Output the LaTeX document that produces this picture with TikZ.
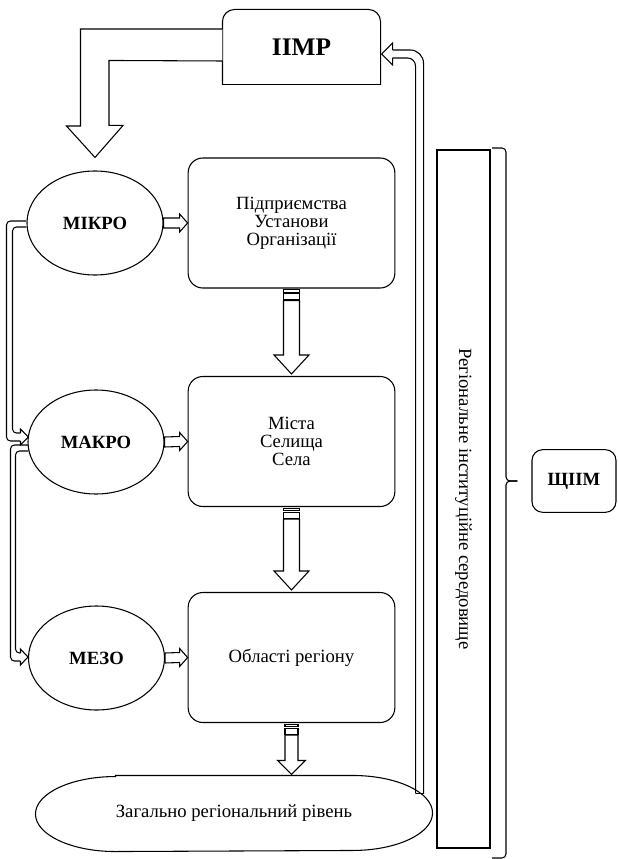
\documentclass[tikz,border=0pt]{standalone}
\usepackage{fontspec}
\setmainfont{Liberation Serif}
\usetikzlibrary{calc,shapes.geometric}

\tikzset{
  txt/.style={font=\fontsize{14}{13.5}\selectfont},
  levelbox/.style={txt,draw,fill=white,rounded corners=11pt,align=center,
    minimum width=155pt,minimum height=97.5pt,inner sep=0pt},
  scaleoval/.style={draw,fill=white,ellipse,minimum width=102pt,minimum height=78pt,
    inner sep=0pt,font=\fontsize{14}{14}\selectfont\bfseries}
}

% small block arrow: from oval #1 to box #2
\newcommand{\SideArrow}[2]{%
  \draw[fill=white] ($(#1.east)+(0,-5)$) -- ($(#2.west)+(-8,-5)$) -- ($(#2.west)+(-8,-9)$)
    -- (#2.west) -- ($(#2.west)+(-8,9)$) -- ($(#2.west)+(-8,5)$) -- ($(#1.east)+(0,5)$) -- cycle;}

% striped block arrow down: from point #1 to point #2, shaft half width #3, head half width #4, head length #5
\newcommand{\StripedArrow}[5]{%
  \draw[fill=white] ($(#1)+(-#3,1)$) rectangle ($(#1)+(#3,3.5)$);
  \draw[fill=white] ($(#1)+(-#3,5)$) rectangle ($(#1)+(#3,11)$);
  \draw[fill=white] ($(#1)+(-#3,12)$) -- ($(#2)+(-#3,-#5)$) -- ($(#2)+(-#4,-#5)$)
    -- ($(#2)+(0,-2)$) -- ($(#2)+(#4,-#5)$) -- ($(#2)+(#3,-#5)$)
    -- ($(#1)+(#3,12)$) -- cycle;}

\begin{document}
\begin{tikzpicture}[x=0.75pt,y=-0.75pt,line width=0.8pt]
\useasboundingbox (0,0) rectangle (617,859);

% top block
\node[minimum width=117.75pt,minimum height=55.5pt,inner sep=0pt,
  font=\fontsize{19}{19}\selectfont\bfseries] (iimr) at (301.5,47) {ІІМР};
\draw[rounded corners=9pt] (iimr.south west) -- (iimr.north west) -- (iimr.north east) -- (iimr.south east);
\draw (iimr.south west) -- (iimr.south east);

% levels
\node[levelbox] (firms) at (291.5,223) {Підприємства\\Установи\\Організації};
\node[levelbox] (towns) at (291.5,441.5) {Міста\\Селища\\Села};
\node[levelbox] (oblasts) at (291.5,657.5) {Області регіону};

\node[scaleoval] (mikro) at (95,223) {МІКРО};
\node[scaleoval] (makro) at (96,442) {МАКРО};
\node[scaleoval] (mezo) at (96.5,658) {МЕЗО};

% bottom level
\node[txt,minimum width=297pt,minimum height=56.25pt,inner sep=0pt] (general) at (234,813.5)
  {Загально регіональний рівень};
\draw ($(general.north west)+(80,0)$) -- ($(general.north east)+(-80,0)$)
  arc[start angle=90,end angle=-90,x radius=60pt,y radius=28.125pt]
  -- ($(general.south west)+(80,0)$)
  arc[start angle=270,end angle=90,x radius=60pt,y radius=28.125pt] -- cycle;

% environment and brace
\node[txt,draw,rotate=-90,minimum width=523.5pt,minimum height=39.75pt,inner sep=0pt]
  (envbox) at (463.5,499) {Регіональне інституційне середовище};
\node[draw,rounded corners=8pt,minimum width=63pt,minimum height=47pt,inner sep=0pt,
  font=\fontsize{14}{14}\selectfont\bfseries] (shchim) at (574,481) {ЩІІМ};
\coordinate (tip) at ($(shchim.west)+(-14,0)$);
\draw[rounded corners=3pt] (492,148) -- (506,148) -- (506,481) -- (tip);
\draw[rounded corners=3pt] (tip) -- (506,481) -- (506,858) -- (492,858);

% big arrow from the top block
\draw[fill=white] ($(iimr.west)+(0,-18)$) -- ++(-142,0) -- ++(0,97) -- ++(-14,0)
  -- ($(mikro.north)+(0,-13)$) -- ($(mikro.north)+(28,-45)$) -- ++(-14,0) -- ++(0,-65)
  -- ($(iimr.west)+(0,14)$);

% arrows between the levels
\SideArrow{mikro}{firms}
\SideArrow{makro}{towns}
\SideArrow{mezo}{oblasts}
\coordinate (gtop) at ($(oblasts.south |- general.north)+(0,1)$);
\StripedArrow{firms.south}{towns.north}{8}{17.5}{21}
\StripedArrow{towns.south}{oblasts.north}{8}{17.5}{21}
\StripedArrow{oblasts.south}{gtop}{6.5}{14}{16}

% left links
\coordinate (c1s) at ($(mikro.west)+(0,1)$);
\coordinate (c1e) at ($(makro.west)+(1,-5)$);
\draw[rounded corners=3pt] ($(c1s)+(0,-3)$) -| ($(c1e)+(-22,4)$) -- ($(c1e)+(-8,4)$);
\draw[rounded corners=3pt] ($(c1s)+(0,3)$) -| ($(c1e)+(-16,-4)$) -- ($(c1e)+(-8,-4)$);
\draw ($(c1e)+(-8,4)$) -- ++(0,4) -- (c1e) -- ($(c1e)+(-8,-8)$) -- ++(0,4);

\coordinate (c2s) at ($(makro.west)+(1,6)$);
\coordinate (c2e) at ($(mezo.west)+(0,-1)$);
\draw[rounded corners=3pt] ($(c2s)+(0,-3)$) -| ($(c2e)+(-17.5,4)$) -- ($(c2e)+(-7.5,4)$);
\draw[rounded corners=3pt] ($(c2s)+(0,3)$) -| ($(c2e)+(-12.5,-4)$) -- ($(c2e)+(-7.5,-4)$);
\draw ($(c2e)+(-7.5,4)$) -- ++(0,4) -- (c2e) -- ($(c2e)+(-7.5,-8)$) -- ++(0,4);

% return link to the top block
\coordinate (ret) at ($(general.east)+(-13,-20)$);
\draw[rounded corners=10pt] ($(iimr.east)+(12,3)$) -| ($(ret)+(4,0)$);
\draw[rounded corners=6pt] ($(iimr.east)+(12,11)$) -| ($(ret)+(-4,0)$);
\draw ($(ret)+(-4,0)$) -- ($(ret)+(4,0)$);
\draw ($(iimr.east)+(12,3)$) -- ++(0,-7) -- ($(iimr.east)+(1,7)$) -- ($(iimr.east)+(12,18)$) -- ++(0,-7);

\end{tikzpicture}
\end{document}
